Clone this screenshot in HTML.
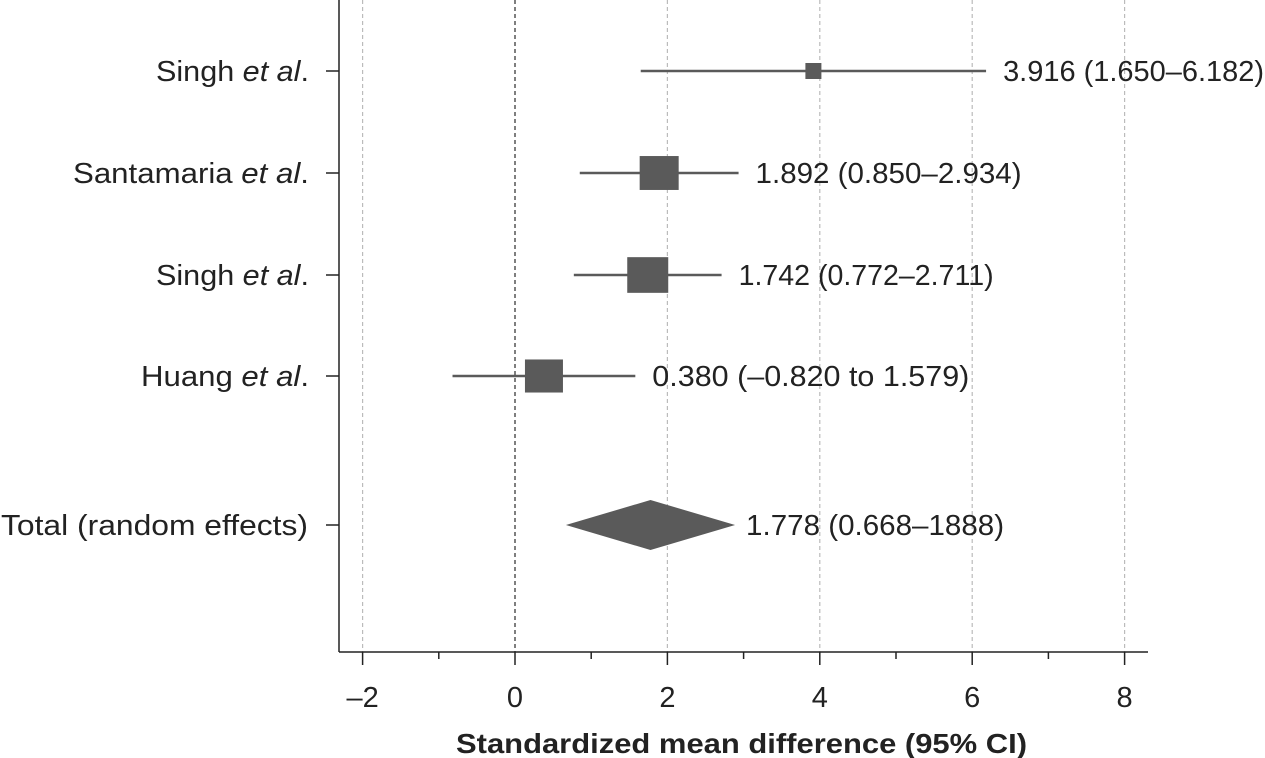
<!DOCTYPE html>
<html><head><meta charset="utf-8"><style>
body{margin:0;background:#fff;}
svg{display:block;font-family:"Liberation Sans",sans-serif;}
</style></head><body>
<svg id="c" width="1265" height="758"></svg>
<script>
const labels=["Singh","Santamaria","Singh","Huang"];
const estimates=[3.916,1.892,1.742,0.380];
const lower=[1.650,0.850,0.772,-0.820];
const upper=[6.182,2.934,2.711,1.579];
const weights=[16,39,41,38];
const ciText=["3.916 (1.650–6.182)","1.892 (0.850–2.934)","1.742 (0.772–2.711)","0.380 (–0.820 to 1.579)"];
const totalEst=1.778, totalLo=0.668, totalHi=2.888;
const totalText="1.778 (0.668–1888)";
const ticks=[-2,0,2,4,6,8];
const minorTicks=[-1,1,3,5,7];
const labelW=[153,236,153,168];
const valueW=[261,266,255,317];
const NS="http://www.w3.org/2000/svg";
const svg=document.getElementById('c');
const X=v=>515+v*76.2;
const rowY=[71,173,275,376];
const totY=525;
function el(t,a,p){const e=document.createElementNS(NS,t);for(const k in a)e.setAttribute(k,a[k]);(p||svg).appendChild(e);return e;}
ticks.forEach(t=>{const g=el('line',{x1:X(t),x2:X(t),y1:0,y2:652,stroke:t===0?'#555':'#bbb','stroke-width':t===0?1.5:1.2,'stroke-dasharray':'4,3'});

});
const ya=el('line',{x1:339,x2:339,y1:0,y2:652,stroke:'#222','stroke-width':1.5});


const xa=el('line',{x1:339,x2:1148,y1:652,y2:652,stroke:'#222','stroke-width':1.5});


ticks.forEach(t=>{el('line',{x1:X(t),x2:X(t),y1:652,y2:665,stroke:'#222','stroke-width':1.5});
const tx=el('text',{x:X(t),y:707,'text-anchor':'middle','font-size':29,fill:'#222'});tx.textContent=t<0?'–'+(-t):t;

});
minorTicks.forEach(t=>el('line',{x1:X(t),x2:X(t),y1:652,y2:659,stroke:'#222','stroke-width':1.5}));
const xt=el('text',{x:456,y:753,'font-size':28,'font-weight':'bold',fill:'#222',textLength:571,lengthAdjust:'spacingAndGlyphs'});
xt.textContent="Standardized mean difference (95% CI)";


labels.forEach((l,i)=>{const y=rowY[i];
el('line',{x1:326,x2:339,y1:y,y2:y,stroke:'#222','stroke-width':1.5});
const t=el('text',{x:309-labelW[i],y:y+10,'font-size':29,fill:'#222',textLength:labelW[i],lengthAdjust:'spacingAndGlyphs'});
t.innerHTML=l+' <tspan font-style="italic">et al</tspan>.';


const ci=el('line',{x1:X(lower[i]),x2:X(upper[i]),y1:y,y2:y,stroke:'#5a5a5a','stroke-width':2.5});


const w=weights[i],h=w<20?w:w*0.87;
const b=el('rect',{x:X(estimates[i])-w/2,y:y-h/2,width:w,height:h,fill:'#5a5a5a'});


const v=el('text',{x:X(upper[i])+17,y:y+10,'font-size':29,fill:'#222',textLength:valueW[i],lengthAdjust:'spacingAndGlyphs'});v.textContent=ciText[i];

});
el('line',{x1:326,x2:339,y1:totY,y2:totY,stroke:'#222','stroke-width':1.5});
const tl=el('text',{x:1,y:totY+10,'font-size':29,fill:'#222',textLength:307,lengthAdjust:'spacingAndGlyphs'});tl.textContent="Total (random effects)";


const d=el('polygon',{points:`${X(totalLo)},${totY} ${X(totalEst)},${totY-25} ${X(totalHi)},${totY} ${X(totalEst)},${totY+25}`,fill:'#5a5a5a'});


const tv=el('text',{x:X(totalHi)+11,y:totY+10,'font-size':29,fill:'#222',textLength:258,lengthAdjust:'spacingAndGlyphs'});tv.textContent=totalText;


</script>
</body></html>
